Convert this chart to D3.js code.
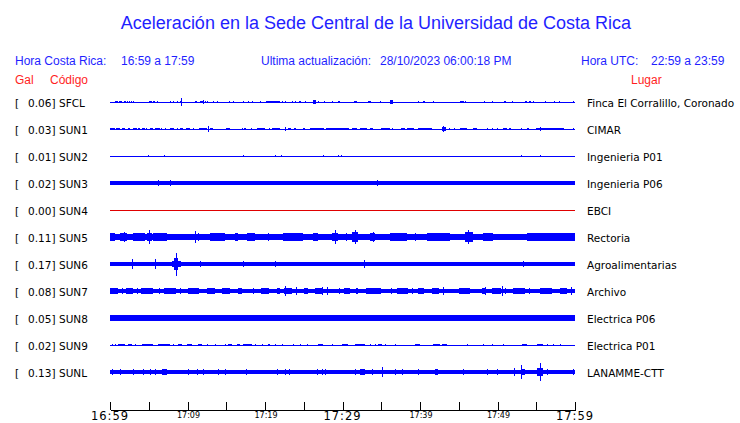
<!DOCTYPE html>
<html><head><meta charset="utf-8">
<script src="https://cdn.jsdelivr.net/npm/d3@7/dist/d3.min.js"></script>
<style>body{margin:0;background:#fff}svg{display:block}</style>
</head><body><svg id="c" width="740" height="423"></svg>
<script>
// ---------------- DATA ----------------
const stations = ["SFCL","SUN1","SUN2","SUN3","SUN4","SUN5","SUN6","SUN7","SUN8","SUN9","SUNL"];
const peakGal  = [0.06,0.03,0.01,0.02,0.00,0.11,0.17,0.08,0.05,0.02,0.13];
const places   = ["Finca El Corralillo, Coronado","CIMAR","Ingenieria P01","Ingenieria P06","EBCI","Rectoria","Agroalimentarias","Archivo","Electrica P06","Electrica P01","LANAMME-CTT"];
// background noise level of each trace (Gal)
const noiseGal = [0,0,0,0.026,0,0.046,0.026,0.033,0.037,0,0.03];
// bursts: [start minute, end minute, amplitude Gal] (minutes after 16:59)
const burstsSFCL = [[0.6,1.0,0.02],[1.2,1.5,0.02],[1.8,2.1,0.015],[2.2,2.2,0.015],[2.5,2.5,0.015],[2.7,2.7,0.015],[3.0,3.0,0.015],[5.0,5.4,0.02],[5.5,5.8,0.02],[6.1,6.1,0.015],[7.7,7.7,0.015],[8.1,8.3,0.015],[8.6,8.6,0.015],[9.0,9.3,0.02],[9.2,9.2,0.06],[11.0,11.2,0.022],[11.6,12.0,0.022],[12.0,12.0,0.03],[12.3,12.3,0.02],[12.5,12.5,0.015],[13.3,13.3,0.015],[13.8,13.8,0.01],[15.4,15.4,0.015],[15.9,15.9,0.015],[17.2,17.2,0.015],[17.8,17.8,0.015],[18.3,18.3,0.015],[19.4,19.4,0.01],[20.1,21.9,0.022],[22.2,22.2,0.015],[22.6,22.6,0.01],[23.5,23.5,0.015],[23.9,23.9,0.015],[24.4,24.6,0.022],[25.2,25.2,0.01],[26.2,26.6,0.03],[26.8,26.8,0.015],[27.6,27.6,0.01],[28.6,28.6,0.01],[29.4,29.7,0.022],[31.5,31.9,0.02],[33.3,33.7,0.015],[34.8,34.8,0.015],[36.1,36.5,0.035],[39.7,39.7,0.01],[40.4,40.6,0.02],[41.7,41.7,0.01],[45.2,45.7,0.02],[45.8,45.8,0.015],[48.3,48.3,0.01],[49.3,49.3,0.01],[50.8,51.1,0.015],[51.9,51.9,0.01],[53.5,53.8,0.02],[54.1,54.3,0.02],[54.6,54.6,0.015],[56.1,56.1,0.01],[57.3,57.3,0.015],[57.9,57.9,0.015],[59.7,59.7,0.015]];
const burstsSUN1 = [[0,0.6,0.018],[0.8,1.3,0.022],[1.6,1.9,0.018],[2.3,2.6,0.016],[3.0,3.5,0.018],[3.6,3.9,0.016],[4.1,4.5,0.018],[4.6,4.6,0.02],[5.2,5.6,0.018],[5.8,6.5,0.018],[6.6,6.6,0.02],[7.1,7.1,0.02],[7.8,8.2,0.018],[8.6,8.8,0.016],[9.0,9.4,0.018],[9.8,10.3,0.018],[10.7,10.7,0.02],[11.5,12.5,0.022],[12.7,12.7,0.04],[12.9,13.3,0.018],[15.0,15.5,0.018],[17.0,17.0,0.02],[17.3,17.5,0.018],[18.2,18.2,0.02],[19.0,20.0,0.018],[20.5,20.5,0.02],[20.9,21.9,0.018],[22.6,22.6,0.035],[23.0,23.4,0.018],[23.8,24.0,0.016],[24.9,25.2,0.016],[25.8,27.6,0.02],[27.9,30.9,0.02],[31.2,31.9,0.018],[32.2,33.2,0.018],[33.5,33.9,0.018],[35.0,36.1,0.018],[36.4,36.4,0.02],[37.6,38.0,0.018],[38.3,39.2,0.018],[39.8,41.6,0.02],[42.8,43.3,0.03],[43.0,43.0,0.04],[43.8,43.9,0.018],[44.4,44.4,0.02],[45.1,46.0,0.02],[46.8,47.4,0.022],[48.7,48.7,0.02],[49.3,49.3,0.02],[49.9,49.9,0.02],[50.7,51.2,0.018],[51.5,51.8,0.016],[53.0,53.2,0.016],[53.8,54.0,0.016],[55.0,58.6,0.02],[55.5,55.5,0.035],[59.7,59.9,0.022]];
const burstsSUN2 = [[4.9,4.9,0.02],[7.0,7.0,0.015],[17.2,17.2,0.02],[21.3,21.3,0.015],[22.1,22.1,0.015],[27.5,27.5,0.015],[29.4,29.4,0.015],[29.8,29.8,0.015],[53.0,53.0,0.02],[55.5,55.5,0.02]];
const burstsSUN3 = [[6.2,6.2,0.05],[7.7,7.7,0.04],[8.3,8.3,0.035],[34.4,34.4,0.04],[37.3,37.3,0.03]];
const burstsSUN4 = [];
const burstsSUN5 = [[0,0.6,0.055],[1.3,2.2,0.062],[1.8,1.8,0.075],[3.0,4.5,0.055],[4.8,5.4,0.062],[5.0,5.0,0.11],[5.5,7.4,0.052],[8.0,8.6,0.05],[11.0,11.0,0.09],[11.4,11.4,0.06],[12.9,14.8,0.052],[16.1,16.5,0.052],[17.7,18.7,0.055],[20.4,20.4,0.06],[22.3,24.9,0.052],[26.2,26.8,0.062],[28.6,29.4,0.065],[29.0,29.0,0.105],[30.5,30.5,0.06],[31.2,32.0,0.07],[31.6,31.6,0.11],[33.6,34.2,0.052],[33.9,33.9,0.07],[36.1,38.3,0.052],[39.4,39.4,0.055],[40.9,43.9,0.052],[45.8,46.8,0.07],[46.2,46.2,0.1],[48.1,49.4,0.055],[53.8,55.5,0.052],[55.5,60,0.052]];
const burstsSUN6 = [[0.9,1.7,0.032],[2.6,3.1,0.035],[2.8,2.8,0.07],[3.2,3.5,0.032],[4.3,4.3,0.035],[4.9,4.9,0.035],[5.8,5.8,0.08],[7.5,7.9,0.032],[8.0,9.2,0.05],[8.3,8.8,0.09],[8.5,8.5,0.17],[9.7,9.7,0.035],[10.3,11.0,0.035],[11.6,11.6,0.045],[13.5,13.5,0.035],[14.6,14.6,0.035],[15.5,15.5,0.035],[15.9,15.9,0.035],[17.2,17.2,0.04],[18.3,18.3,0.035],[19.2,19.7,0.035],[21.3,21.3,0.045],[23.0,23.0,0.035],[23.9,23.9,0.035],[26.5,26.5,0.035],[29.0,29.0,0.035],[31.2,31.6,0.035],[32.0,32.5,0.035],[32.8,32.8,0.06],[33.2,33.5,0.035],[36.1,36.5,0.032],[37.0,37.4,0.035],[38.7,38.7,0.035],[40.3,40.9,0.032],[44.8,44.8,0.035],[46.5,46.8,0.032],[50.3,50.3,0.035],[53.3,53.3,0.045],[55.5,55.5,0.035],[57.0,57.0,0.035],[58.5,58.5,0.035],[59.8,59.8,0.035]];
const burstsSUN7 = [[0,1.0,0.042],[1.5,1.5,0.05],[2.0,3.0,0.04],[3.5,3.5,0.05],[4.0,5.5,0.042],[6.3,6.3,0.05],[7.0,8.5,0.042],[9.0,9.0,0.05],[10,11.5,0.042],[12.5,13.5,0.042],[14.5,15.5,0.042],[16.5,17.0,0.04],[18.5,18.5,0.05],[19.5,20.5,0.042],[21.5,21.9,0.042],[22.6,22.6,0.075],[22.5,23.5,0.042],[24.0,24.0,0.055],[25.0,25.5,0.04],[26.5,27.5,0.042],[27.3,27.3,0.055],[28.0,28.0,0.055],[29.5,29.5,0.045],[30.2,31.0,0.042],[31.8,32.0,0.05],[33.0,35.0,0.042],[36.3,36.3,0.045],[37.0,38.5,0.042],[39.0,39.0,0.045],[39.8,40.5,0.042],[41.5,42.5,0.04],[43.0,43.0,0.06],[45.0,46.5,0.042],[48.0,48.5,0.042],[48.4,48.4,0.06],[49.3,50.5,0.042],[50.6,50.6,0.075],[51.0,51.0,0.05],[52.0,53.5,0.042],[54.0,54.0,0.045],[55.5,57.0,0.042],[58.0,59.0,0.042],[59.5,59.5,0.06]];
const burstsSUN8 = [[0.3,0.3,0.045],[1.4,1.4,0.05],[2.2,2.2,0.045],[3.5,3.5,0.045],[4.9,4.9,0.05],[6.4,6.4,0.045],[7.5,7.5,0.045],[9.2,9.2,0.045],[10.5,10.5,0.045],[12.0,12.0,0.045],[13.3,13.3,0.045],[14.8,14.8,0.045],[17.3,17.3,0.05],[18.1,18.1,0.045],[19.4,19.4,0.045],[21.0,21.0,0.045],[23.5,23.5,0.045],[24.8,24.8,0.045],[26.2,26.2,0.045],[28,28.5,0.045],[29.7,29.7,0.045],[31,31,0.05],[32.5,32.5,0.045],[34.2,34.2,0.045],[35.5,35.5,0.045],[37.6,37.6,0.045],[39.8,39.8,0.045],[41.9,41.9,0.045],[43.5,43.5,0.045],[45.1,45.1,0.045],[46.2,46.2,0.05],[48.7,48.7,0.045],[50.3,50.3,0.045],[52.1,52.1,0.045],[54.0,54.0,0.045],[57.0,57.0,0.05],[58.4,58.4,0.045],[59.8,59.8,0.045]];
const burstsSUN9 = [[0.2,0.2,0.02],[0.6,0.6,0.02],[1.0,1.9,0.018],[2.3,2.8,0.018],[3.2,3.2,0.02],[4.1,5.5,0.018],[6.2,7.7,0.016],[8.1,8.1,0.02],[8.8,9.3,0.018],[9.9,10.6,0.016],[11.4,11.9,0.018],[12.5,12.5,0.02],[13.5,13.5,0.02],[14.8,14.8,0.02],[15.2,15.7,0.018],[16.4,16.8,0.018],[17.2,18.3,0.018],[18.7,18.7,0.02],[19.6,19.6,0.02],[20.4,20.6,0.018],[21.3,21.3,0.02],[22.2,22.2,0.02],[23.6,23.6,0.02],[24.5,24.5,0.02],[25.4,25.4,0.02],[26.8,27.5,0.018],[28.6,28.6,0.02],[29.9,30.7,0.018],[31.6,32.9,0.018],[33.5,33.5,0.02],[34.2,34.2,0.02],[34.6,35.1,0.018],[35.5,35.5,0.02],[36.8,36.8,0.02],[39.4,40.0,0.018],[41.7,42.6,0.018],[42.8,43.5,0.018],[46.1,46.1,0.02],[48.1,48.1,0.02],[49.3,49.4,0.018],[50.7,50.7,0.02],[53.2,53.8,0.018],[55.1,55.9,0.018],[56.4,56.4,0.02],[57.2,57.2,0.02],[58.1,58.1,0.02]];
const burstsSUNL = [[0.2,0.2,0.04],[1.3,1.3,0.04],[3.0,3.0,0.045],[4.3,4.3,0.04],[5.2,5.2,0.04],[5.8,5.8,0.04],[6.7,7.4,0.045],[10.1,10.1,0.04],[11.2,11.2,0.04],[12.0,12.0,0.04],[13.9,13.9,0.04],[14.8,14.8,0.04],[17.5,17.5,0.045],[21.5,21.5,0.04],[22.6,22.6,0.04],[23.1,23.1,0.05],[26.7,26.7,0.04],[27.4,27.4,0.04],[27.7,27.7,0.045],[31.6,31.6,0.04],[32.3,32.9,0.045],[33.8,33.8,0.04],[35.1,35.1,0.075],[36.8,36.8,0.04],[37.7,37.7,0.04],[39.7,39.7,0.04],[41.9,42.3,0.045],[45.5,45.5,0.04],[48.6,48.6,0.04],[49.9,49.9,0.04],[52.1,52.1,0.055],[53.0,53.0,0.1],[53.2,53.5,0.045],[55.1,55.9,0.06],[55.5,55.5,0.13],[56.4,56.4,0.045],[59.7,59.7,0.05]];
const bursts = [burstsSFCL,burstsSUN1,burstsSUN2,burstsSUN3,burstsSUN4,burstsSUN5,burstsSUN6,burstsSUN7,burstsSUN8,burstsSUN9,burstsSUNL];
const startTime = "2023-10-28 16:59", endTime = "2023-10-28 17:59";
const tickMinutes = [0,5,10,15,20,25,30,35,40,45,50,55,60];
const majorTickLabels = ["16:59","17:29","17:59"];
const minorTickLabels = ["17:09","17:19","17:39","17:49"];

// ---------------- DRAW ----------------
const svg = d3.select("#c");
const parse = d3.timeParse("%Y-%m-%d %H:%M");
const t0 = parse(startTime), t1 = parse(endTime);
const at = m => new Date(t0.getTime() + m*60000);
const x = d3.scaleTime().domain([t0,t1]).range([110,575]);
const y = d3.scalePoint().domain(stations).range([102,372]);
const amp = d3.scaleLinear().domain([0,0.17]).range([0,11.5]);

const BLUE = "#1f1fff", RED = "#ff1f1f";
const sans = "'Liberation Sans', Arial, sans-serif";
const dv = "'DejaVu Sans', sans-serif";

svg.append("text").attr("x",376).attr("y",29).attr("text-anchor","middle")
  .attr("font-family",sans).attr("font-size",18).attr("fill",BLUE)
  .text("Aceleración en la Sede Central de la Universidad de Costa Rica");

const hdr = [["Hora Costa Rica:",15],["16:59 a 17:59",121],["Ultima actualización:",261],["28/10/2023 06:00:18 PM",380],["Hora UTC:",581],["22:59 a 23:59",651]];
svg.selectAll("text.h").data(hdr).join("text").attr("class","h")
  .attr("x",d=>d[1]).attr("y",65).attr("font-family",sans).attr("font-size",12).attr("fill",BLUE).text(d=>d[0]);
const hdr2 = [["Gal",15],["Código",50],["Lugar",631]];
svg.selectAll("text.h2").data(hdr2).join("text").attr("class","h2")
  .attr("x",d=>d[1]).attr("y",84).attr("font-family",sans).attr("font-size",12).attr("fill",RED).text(d=>d[0]);

const g = svg.append("g").attr("shape-rendering","crispEdges");
stations.forEach((s,i)=>{
  const y0 = y(s);
  const col = s==="SUN4" ? "#e00000" : "#0000ff";
  const n = noiseGal[i];
  const h = Math.max(0.5, amp(n));
  g.append("rect").attr("x",x(t0)).attr("width",x(t1)-x(t0))
    .attr("y",y0-h).attr("height",2*h).attr("fill",col);
  g.selectAll(null).data(bursts[i]).join("rect")
    .attr("x",d=>x(at(d[0])))
    .attr("width",d=>Math.max(1,x(at(d[1]))-x(at(d[0]))))
    .attr("y",d=>y0-amp(d[2])).attr("height",d=>2*amp(d[2])).attr("fill",col);
});

const lab = svg.append("g").attr("font-family",dv).attr("font-size",10.5).attr("fill","#000");
stations.forEach((s,i)=>{
  const yy = y(s)+4.5;
  lab.append("text").attr("x",15).attr("y",yy).text("[");
  lab.append("text").attr("x",55.5).attr("y",yy).attr("text-anchor","end").text(peakGal[i].toFixed(2)+"]");
  lab.append("text").attr("x",59).attr("y",yy).text(s);
  lab.append("text").attr("x",587).attr("y",yy).text(places[i]);
});

// axis
const tickVals = tickMinutes.map(at);
const ax = d3.axisBottom(x).tickValues(tickVals).tickSizeInner(-8).tickSizeOuter(0).tickFormat("");
const axg = svg.append("g").attr("transform","translate(0,409.5)").call(ax);
axg.selectAll("path,line").attr("stroke","#000").attr("shape-rendering","crispEdges");
const fmt = d3.timeFormat("%H:%M");
svg.selectAll("text.maj").data(tickVals.filter(d=>majorTickLabels.includes(fmt(d)))).join("text").attr("class","maj")
  .attr("x",d=>x(d)).attr("y",420).attr("text-anchor","middle").attr("font-family",dv).attr("font-size",11.5)
  .attr("letter-spacing",1).text(d=>fmt(d));
svg.selectAll("text.mn").data(tickVals.filter(d=>minorTickLabels.includes(fmt(d)))).join("text").attr("class","mn")
  .attr("x",d=>x(d)+1).attr("y",417.5).attr("text-anchor","middle").attr("font-family",dv).attr("font-size",8)
  .text(d=>fmt(d));
</script></body></html>
